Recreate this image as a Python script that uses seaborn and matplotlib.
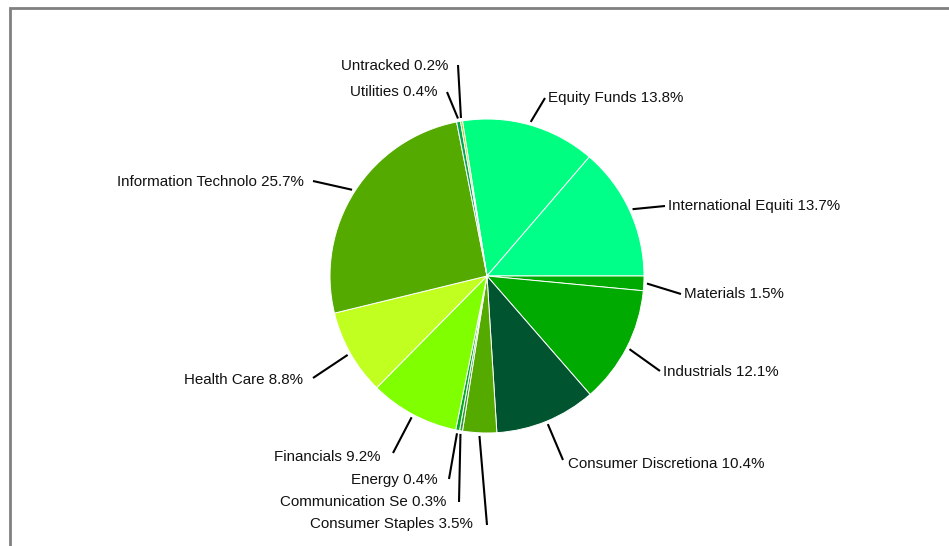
import numpy as np
import seaborn as sns
import matplotlib.pyplot as plt
from matplotlib.patches import Rectangle

sectors = ['Equity Funds', 'International Equiti', 'Materials', 'Industrials',
           'Consumer Discretiona', 'Consumer Staples', 'Communication Se', 'Energy',
           'Financials', 'Health Care', 'Information Technolo', 'Utilities', 'Untracked']
weights = [13.8, 13.7, 1.5, 12.1, 10.4, 3.5, 0.3, 0.4, 9.2, 8.8, 25.7, 0.4, 0.2]
colors = ['#00ff80', '#00ff88', '#00aa00', '#00aa00', '#005530', '#55aa00', '#339933',
          '#00aa22', '#80ff00', '#c0ff20', '#55aa00', '#00aa55', '#aacc00']

# label placement in pixels of the 949x546 canvas: line end, text anchor
line_end = [(545, 98), (665, 206), (681, 294), (660, 371), (563, 460), (487, 525),
            (459, 502), (449, 479), (393, 453), (313, 378), (313, 181), (447, 92), (458, 65)]
text_pos = [(548, 98), (668, 206), (684, 294), (663, 372), (568, 464), (473, 524),
            (446, 502), (438, 480), (380, 457), (303, 380), (304, 182), (437, 92), (448, 66)]
cx, cy, rad = 487, 276, 157


def to_data(p):
    return (p[0] - cx) / rad, (cy - p[1]) / rad


sns.set_theme(style='white')
plt.rcParams['font.family'] = ['Liberation Sans', 'DejaVu Sans']

fig = plt.figure(figsize=(9.49, 5.46), dpi=100)
ax = fig.add_axes([0, 0, 1, 1])
wedges, _ = ax.pie(weights, colors=colors, startangle=99, counterclock=False,
                   radius=1, center=(0, 0),
                   wedgeprops=dict(edgecolor='white', linewidth=0.7))
ax.set_aspect('auto')
ax.set_xlim(-cx / rad, (949 - cx) / rad)
ax.set_ylim((cy - 546) / rad, cy / rad)
ax.axis('off')

for w, name, val, le, tp in zip(wedges, sectors, weights, line_end, text_pos):
    mid = np.deg2rad((w.theta1 + w.theta2) / 2)
    x0, y0 = 1.02 * np.cos(mid), 1.02 * np.sin(mid)
    x1, y1 = to_data(le)
    ax.plot([x0, x1], [y0, y1], color='black', lw=1.5, solid_capstyle='butt')
    tx, ty = to_data(tp)
    ha = 'left' if tp[0] > le[0] else 'right'
    ax.text(tx, ty, f'{name} {val}%', ha=ha, va='center', fontsize=10.9, color='#111111')

# chart frame (only top and left edges visible in the crop)
fig.add_artist(Rectangle((10 / 949, -0.5), 2, 1.5 - 8 / 546, transform=fig.transFigure,
                         fill=False, edgecolor='#808080', lw=2, clip_on=False))

fig.savefig('out.png', dpi=100)
